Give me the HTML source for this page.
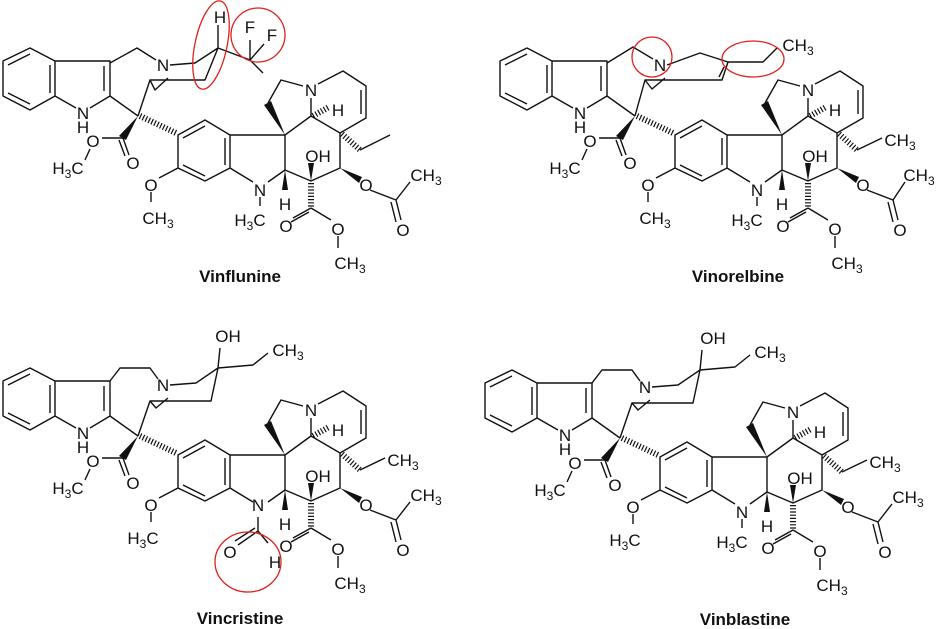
<!DOCTYPE html>
<html><head><meta charset="utf-8"><style>
html,body{margin:0;padding:0;background:#fff}
svg{display:block}
.b{fill:none;stroke:#111;stroke-width:1.4;stroke-linejoin:round}
.h{fill:none;stroke:#111;stroke-width:6;stroke-dasharray:1.2 2}
.w{fill:#111}
text{font-family:"Liberation Sans",sans-serif;font-size:17px;fill:#111;text-anchor:middle}
.nm{font-weight:bold;font-size:17px}
.r{fill:none;stroke:#e0201c;stroke-width:1.3}
</style></head><body>
<svg width="937" height="629" viewBox="0 0 937 629" xmlns="http://www.w3.org/2000/svg">

<!-- ===== VINFLUNINE ===== -->
<g transform="translate(-2,-2)">
<path class="b" d="M32,50 L57,63 L57,98 L32,112 L5,98 L5,63Z M10,67 L32,56 M10,95 L32,106 M52,67 L52,95 M57,63 L112,63 L112,98 L92,110 M78,110 L57,98 M106,68 L106,93 M112,98 L140,118 M180,137 L207,122 L232,137 L232,170 L207,183 L180,170Z M185,140 L207,128 M227,140 L227,167 M185,167 L207,178 M180,170 L161,180 M153,194 L153,204 M232,137 L287,137 L287,172 M232,170 L255,184 M270,184 L287,172 M262,199 L262,208 M270,105 L283,82 L305,88 M313,100 L313,118 L287,137 M313,118 L342,135 L342,170 L313,183 L287,172 M320,86 L345,73 L368,88 L368,120 L342,135 M363,92 L363,116 M362,152 L392,137 M372,192 L398,202 L412,184 M398,202 L403,222 M393,204 L398,224 M125,140 L104,140 M125,140 L131,157 M121,142 L127,158 M92,151 L87,162 M313,210 L295,220 M311,214 L293,224 M313,210 L333,222 M340,238 L340,250"/>
<polygon class="w" points="140,118 121,138 128,142"/>
<polygon class="w" points="287,172 284,192 290,192"/>
<polygon class="w" points="287,137 266,107 273,103"/>
<polygon class="w" points="313,183 310,165 316,165"/>
<polygon class="w" points="342,170 361,185 364,179"/>
<line class="h" x1="142" y1="118" x2="178" y2="135"/>
<line class="h" x1="315" y1="118" x2="331" y2="109"/>
<line class="h" x1="344" y1="136" x2="362" y2="152"/>
<line class="h" x1="313" y1="185" x2="313" y2="210"/>
<path class="b" d="M112,65 L139,50 L158,62 M172,67 L197,65 L220,50 L207,82 L152,82 L140,118 M220,50 L252,62 L265,75 M220,50 L220,27 M252,62 L252,42 M252,62 L266,46 M152,82 L157,92 L170,80"/>
<text x="165" y="73">N</text><text x="222" y="25">H</text><text x="252" y="35">F</text><text x="274" y="43">F</text>
<text x="85" y="121">N</text><text x="85" y="135">H</text><text x="135" y="171">O</text><text x="95" y="149">O</text>
<text x="70" y="176">H<tspan font-size="12" dy="4">3</tspan><tspan dy="-4">C</tspan></text>
<text x="153" y="193">O</text><text x="160" y="226">CH<tspan font-size="12" dy="4">3</tspan></text>
<text x="262" y="198">N</text><text x="252" y="228">H<tspan font-size="12" dy="4">3</tspan><tspan dy="-4">C</tspan></text>
<text x="287" y="212">H</text><text x="313" y="98">N</text><text x="340" y="118">H</text><text x="320" y="164">OH</text>
<text x="368" y="193">O</text><text x="405" y="238">O</text><text x="428" y="183">CH<tspan font-size="12" dy="4">3</tspan></text>
<text x="288" y="234">O</text><text x="340" y="237">O</text><text x="352" y="271">CH<tspan font-size="12" dy="4">3</tspan></text>
</g>
<ellipse class="r" cx="211" cy="45" rx="16" ry="45" transform="rotate(12 211 45)"/>
<circle class="r" cx="258" cy="35" r="27"/>
<text class="nm" x="240" y="282">Vinflunine</text>

<!-- ===== VINORELBINE ===== -->
<g transform="translate(495,-2)">
<path class="b" d="M32,50 L57,63 L57,98 L32,112 L5,98 L5,63Z M10,67 L32,56 M10,95 L32,106 M52,67 L52,95 M57,63 L112,63 L112,98 L92,110 M78,110 L57,98 M106,68 L106,93 M112,98 L140,118 M180,137 L207,122 L232,137 L232,170 L207,183 L180,170Z M185,140 L207,128 M227,140 L227,167 M185,167 L207,178 M180,170 L161,180 M153,194 L153,204 M232,137 L287,137 L287,172 M232,170 L255,184 M270,184 L287,172 M262,199 L262,208 M270,105 L283,82 L305,88 M313,100 L313,118 L287,137 M313,118 L342,135 L342,170 L313,183 L287,172 M320,86 L345,73 L368,88 L368,120 L342,135 M363,92 L363,116 M362,152 L387,140 M372,192 L398,202 L410,184 M398,202 L403,222 M393,204 L398,224 M125,140 L104,140 M125,140 L131,157 M121,142 L127,158 M92,151 L87,162 M313,210 L295,220 M311,214 L293,224 M313,210 L333,222 M340,238 L340,250"/>
<polygon class="w" points="140,118 121,138 128,142"/>
<polygon class="w" points="287,172 284,192 290,192"/>
<polygon class="w" points="287,137 266,107 273,103"/>
<polygon class="w" points="313,183 310,165 316,165"/>
<polygon class="w" points="342,170 361,185 364,179"/>
<line class="h" x1="142" y1="118" x2="178" y2="135"/>
<line class="h" x1="315" y1="118" x2="331" y2="109"/>
<line class="h" x1="344" y1="136" x2="362" y2="152"/>
<line class="h" x1="313" y1="185" x2="313" y2="210"/>
<path class="b" d="M112,65 L138,49 L158,61 M172,67 L205,55 L233,64 L227,82 L150,82 L140,118 M229,69 L224,79 M233,64 L268,64 L282,50 M150,82 L157,91 L170,80"/>
<text x="165" y="73">N</text><text x="303" y="53">CH<tspan font-size="12" dy="4">3</tspan></text>
<text x="85" y="121">N</text><text x="85" y="135">H</text><text x="135" y="171">O</text><text x="95" y="149">O</text>
<text x="70" y="176">H<tspan font-size="12" dy="4">3</tspan><tspan dy="-4">C</tspan></text>
<text x="153" y="193">O</text><text x="160" y="226">CH<tspan font-size="12" dy="4">3</tspan></text>
<text x="262" y="198">N</text><text x="252" y="228">H<tspan font-size="12" dy="4">3</tspan><tspan dy="-4">C</tspan></text>
<text x="287" y="212">H</text><text x="313" y="98">N</text><text x="340" y="118">H</text><text x="320" y="164">OH</text>
<text x="405" y="148">CH<tspan font-size="12" dy="4">3</tspan></text>
<text x="368" y="193">O</text><text x="405" y="238">O</text><text x="424" y="183">CH<tspan font-size="12" dy="4">3</tspan></text>
<text x="288" y="234">O</text><text x="340" y="237">O</text><text x="352" y="271">CH<tspan font-size="12" dy="4">3</tspan></text>
</g>
<circle class="r" cx="652" cy="57" r="20"/>
<ellipse class="r" cx="753" cy="59" rx="31" ry="18"/>
<text class="nm" x="738" y="282">Vinorelbine</text>

<!-- ===== VINCRISTINE ===== -->
<g transform="translate(-2,318)">
<path class="b" d="M32,50 L57,63 L57,98 L32,112 L5,98 L5,63Z M10,67 L32,56 M10,95 L32,106 M52,67 L52,95 M57,63 L112,63 L112,98 L92,110 M78,110 L57,98 M106,68 L106,93 M112,98 L140,118 M180,137 L207,122 L232,137 L232,170 L207,183 L180,170Z M185,140 L207,128 M227,140 L227,167 M185,167 L207,178 M180,170 L161,180 M153,194 L153,204 M232,137 L287,137 L287,172 M232,170 L255,184 M270,184 L287,172 M270,105 L283,82 L305,88 M313,100 L313,118 L287,137 M313,118 L342,135 L342,170 L313,183 L287,172 M320,86 L345,73 L368,88 L368,120 L342,135 M363,92 L363,116 M362,152 L387,140 M372,192 L398,202 L412,184 M398,202 L403,222 M393,204 L398,224 M125,140 L104,140 M125,140 L131,157 M121,142 L127,158 M92,151 L87,162 M313,210 L295,220 M311,214 L293,224 M313,210 L333,222 M340,238 L340,250"/>
<polygon class="w" points="140,118 121,138 128,142"/>
<polygon class="w" points="287,172 284,192 290,192"/>
<polygon class="w" points="287,137 266,107 273,103"/>
<polygon class="w" points="313,183 310,165 316,165"/>
<polygon class="w" points="342,170 361,185 364,179"/>
<line class="h" x1="142" y1="118" x2="178" y2="135"/>
<line class="h" x1="315" y1="118" x2="331" y2="109"/>
<line class="h" x1="344" y1="136" x2="362" y2="152"/>
<line class="h" x1="313" y1="185" x2="313" y2="210"/>
<path class="b" d="M112,63 L122,50 L152,50 L160,61 M172,67 L198,65 L220,50 L213,83 L152,83 L140,118 M220,50 L222,30 M220,50 L255,47 L270,35 M152,83 L158,90 L170,80 M260,199 L260,213 L240,227 M257,210 L237,223 M260,213 L270,225"/>
<text x="165" y="73">N</text><text x="230" y="24">OH</text><text x="290" y="38">CH<tspan font-size="12" dy="4">3</tspan></text>
<text x="85" y="121">N</text><text x="85" y="135">H</text><text x="135" y="171">O</text><text x="95" y="149">O</text>
<text x="70" y="176">H<tspan font-size="12" dy="4">3</tspan><tspan dy="-4">C</tspan></text>
<text x="153" y="193">O</text><text x="145" y="226">H<tspan font-size="12" dy="4">3</tspan><tspan dy="-4">C</tspan></text>
<text x="260" y="193">N</text><text x="232" y="240">O</text><text x="277" y="250">H</text>
<text x="287" y="212">H</text><text x="313" y="98">N</text><text x="340" y="118">H</text><text x="320" y="164">OH</text>
<text x="405" y="148">CH<tspan font-size="12" dy="4">3</tspan></text>
<text x="368" y="193">O</text><text x="405" y="238">O</text><text x="428" y="183">CH<tspan font-size="12" dy="4">3</tspan></text>
<text x="288" y="234">O</text><text x="340" y="237">O</text><text x="352" y="271">CH<tspan font-size="12" dy="4">3</tspan></text>
</g>
<ellipse class="r" cx="248" cy="562" rx="33" ry="30"/>
<text class="nm" x="240" y="624">Vincristine</text>

<!-- ===== VINBLASTINE ===== -->
<g transform="translate(480,320)">
<path class="b" d="M32,50 L57,63 L57,98 L32,112 L5,98 L5,63Z M10,67 L32,56 M10,95 L32,106 M52,67 L52,95 M57,63 L112,63 L112,98 L92,110 M78,110 L57,98 M106,68 L106,93 M112,98 L140,118 M180,137 L207,122 L232,137 L232,170 L207,183 L180,170Z M185,140 L207,128 M227,140 L227,167 M185,167 L207,178 M180,170 L161,180 M153,194 L153,204 M232,137 L287,137 L287,172 M232,170 L255,184 M270,184 L287,172 M262,199 L262,208 M270,105 L283,82 L305,88 M313,100 L313,118 L287,137 M313,118 L342,135 L342,170 L313,183 L287,172 M320,86 L345,73 L368,88 L368,120 L342,135 M363,92 L363,116 M362,152 L387,140 M372,192 L398,202 L412,184 M398,202 L403,222 M393,204 L398,224 M125,140 L104,140 M125,140 L131,157 M121,142 L127,158 M92,151 L87,162 M313,210 L295,220 M311,214 L293,224 M313,210 L333,222 M340,238 L340,250"/>
<polygon class="w" points="140,118 121,138 128,142"/>
<polygon class="w" points="287,172 284,192 290,192"/>
<polygon class="w" points="287,137 266,107 273,103"/>
<polygon class="w" points="313,183 310,165 316,165"/>
<polygon class="w" points="342,170 361,185 364,179"/>
<line class="h" x1="142" y1="118" x2="178" y2="135"/>
<line class="h" x1="315" y1="118" x2="331" y2="109"/>
<line class="h" x1="344" y1="136" x2="362" y2="152"/>
<line class="h" x1="313" y1="185" x2="313" y2="210"/>
<path class="b" d="M112,63 L122,50 L152,50 L160,61 M172,67 L198,65 L220,50 L213,83 L152,83 L140,118 M220,50 L222,30 M220,50 L255,47 L270,35 M152,83 L158,90 L170,80"/>
<text x="165" y="73">N</text><text x="233" y="24">OH</text><text x="290" y="38">CH<tspan font-size="12" dy="4">3</tspan></text>
<text x="85" y="121">N</text><text x="85" y="135">H</text><text x="135" y="171">O</text><text x="95" y="149">O</text>
<text x="70" y="176">H<tspan font-size="12" dy="4">3</tspan><tspan dy="-4">C</tspan></text>
<text x="153" y="193">O</text><text x="145" y="226">H<tspan font-size="12" dy="4">3</tspan><tspan dy="-4">C</tspan></text>
<text x="262" y="198">N</text><text x="252" y="228">H<tspan font-size="12" dy="4">3</tspan><tspan dy="-4">C</tspan></text>
<text x="287" y="212">H</text><text x="313" y="98">N</text><text x="340" y="118">H</text><text x="320" y="164">OH</text>
<text x="405" y="148">CH<tspan font-size="12" dy="4">3</tspan></text>
<text x="368" y="193">O</text><text x="405" y="238">O</text><text x="428" y="183">CH<tspan font-size="12" dy="4">3</tspan></text>
<text x="288" y="234">O</text><text x="340" y="237">O</text><text x="352" y="271">CH<tspan font-size="12" dy="4">3</tspan></text>
</g>
<text class="nm" x="745" y="625">Vinblastine</text>
</svg>
</body></html>
